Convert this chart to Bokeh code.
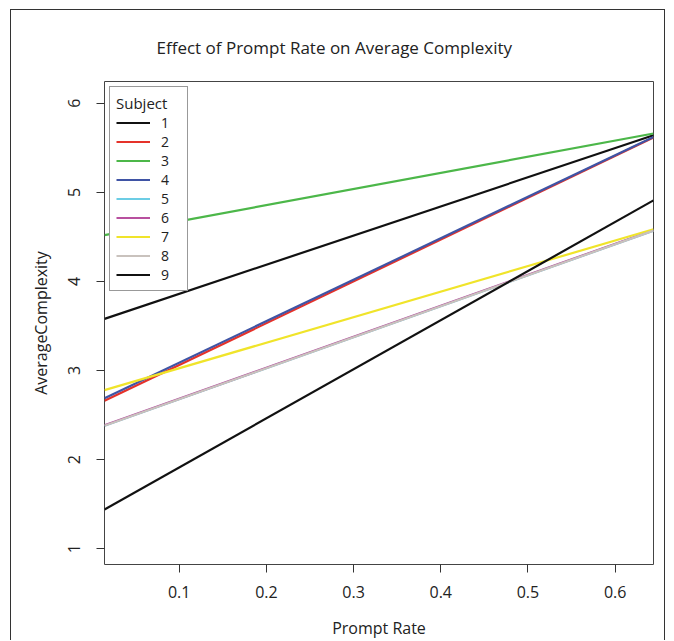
from bokeh.plotting import figure
from bokeh.models import Legend, LegendItem, Range1d, FixedTicker
from bokeh.embed import file_html
from bokeh.resources import INLINE

# ---- data ----
subjects = ["1", "2", "3", "4", "5", "6", "7", "8", "9"]
prompt_rate = [0.0143, 0.644]
complexity_1 = [3.58, 5.64]
complexity_2 = [2.66, 5.615]
complexity_3 = [4.52, 5.66]
complexity_4 = [2.69, 5.62]
complexity_5 = [2.38, 4.57]
complexity_6 = [2.385, 4.575]
complexity_7 = [2.78, 4.585]
complexity_8 = [2.38, 4.57]
complexity_9 = [1.44, 4.91]
x_ticks = [0.1, 0.2, 0.3, 0.4, 0.5, 0.6]
y_ticks = [1, 2, 3, 4, 5, 6]

series = [complexity_1, complexity_2, complexity_3, complexity_4, complexity_5,
          complexity_6, complexity_7, complexity_8, complexity_9]
colors = ["#111111", "#e5322a", "#4cb749", "#3f54a5", "#6ccde5",
          "#b8509f", "#f0e42a", "#c9c2bd", "#111111"]

FONT = "Open Sans"

p = figure(width=655, height=631,
           x_range=Range1d(prompt_rate[0], prompt_rate[1]),
           y_range=Range1d(0.823, 6.244),
           output_backend="svg", toolbar_location=None,
           min_border_left=93, min_border_right=13,
           min_border_top=69, min_border_bottom=73,
           title="Effect of Prompt Rate on Average Complexity")

p.styles = {"margin-left": "10px", "margin-top": "9px",
            "border-top": "1px solid #333", "border-left": "1px solid #333",
            "border-right": "1px solid #333"}

p.title.align = "left"
p.title.text_font = FONT
p.title.text_font_size = "17px"
p.title.text_font_style = "normal"
p.title.text_color = "#222222"
p.title.standoff = 46
p.title.offset = 52

p.xgrid.visible = False
p.ygrid.visible = False
p.outline_line_color = "#444444"
p.outline_line_width = 1
p.background_fill_color = "white"
p.border_fill_color = "white"

for ax in (p.xaxis[0], p.yaxis[0]):
    ax.axis_line_color = None
    ax.major_tick_line_color = "#333333"
    ax.major_tick_out = 8
    ax.major_tick_in = 0
    ax.minor_tick_line_color = None
    ax.major_label_text_font = FONT
    ax.major_label_text_font_size = "16px"
    ax.major_label_text_color = "#222222"
    ax.axis_label_text_font = FONT
    ax.axis_label_text_font_size = "16px"
    ax.axis_label_text_font_style = "normal"
    ax.axis_label_text_color = "#222222"

p.xaxis.ticker = FixedTicker(ticks=x_ticks)
p.yaxis.ticker = FixedTicker(ticks=y_ticks)
p.xaxis.axis_label = "Prompt Rate"
p.yaxis.axis_label = "AverageComplexity"
p.xaxis.major_label_standoff = 13
p.xaxis.axis_label_standoff = 16
p.yaxis.major_label_standoff = 16
p.yaxis.axis_label_standoff = 14
p.yaxis.major_label_orientation = "parallel"

items = []
for s, ys, c in zip(subjects, series, colors):
    r = p.line(prompt_rate, ys, line_color=c, line_width=2.2)
    items.append(LegendItem(label=s, renderers=[r]))

legend = Legend(items=items, location="top_left", title="Subject")
legend.margin = 5
legend.padding = 6
legend.spacing = 0
legend.glyph_width = 34
legend.glyph_height = 19
legend.label_height = 19
legend.label_standoff = 11
legend.label_text_font = FONT
legend.label_text_font_size = "14px"
legend.label_text_color = "#222222"
legend.title_text_font = FONT
legend.title_text_font_size = "15px"
legend.title_text_font_style = "normal"
legend.title_text_color = "#222222"
legend.title_standoff = 0
legend.border_line_color = "#333333"
legend.border_line_width = 1
legend.background_fill_alpha = 1
p.add_layout(legend)

open("out.html", "w").write(file_html(p, INLINE))
